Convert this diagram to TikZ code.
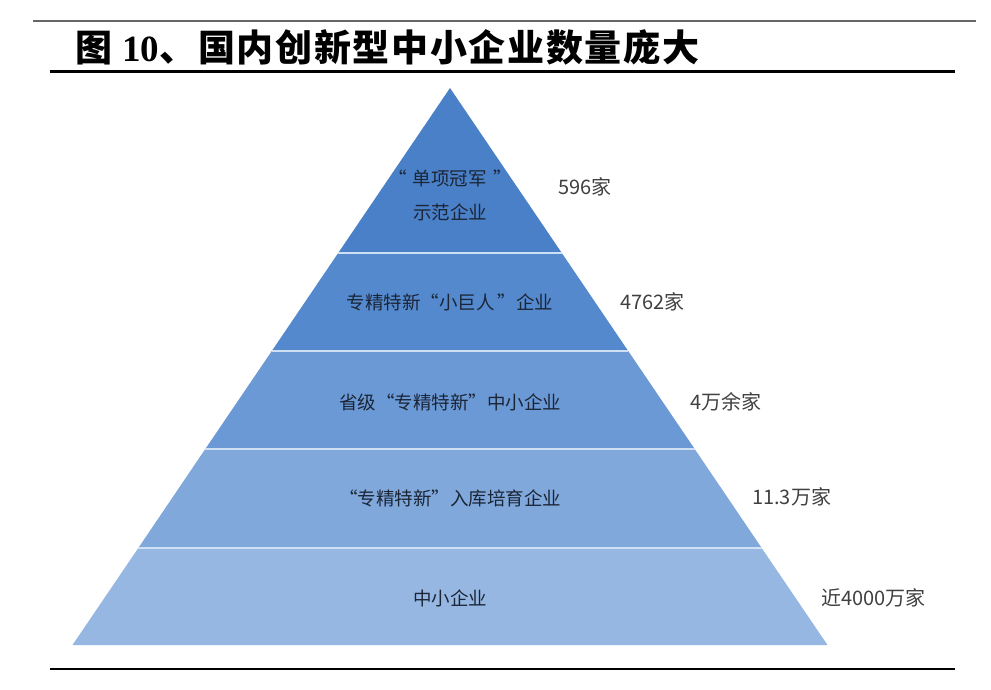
\documentclass[tikz,border=0pt]{standalone}
\usepackage{fontspec}
\setmainfont{Liberation Serif}
\newfontfamily\cjk{Noto Sans CJK SC}
\newfontfamily\cjkwide[LetterSpace=4.5]{Noto Sans CJK SC}
\definecolor{bandA}{HTML}{4A80C8}
\definecolor{bandB}{HTML}{5489CE}
\definecolor{bandC}{HTML}{6B99D5}
\definecolor{bandD}{HTML}{80A8DB}
\definecolor{bandE}{HTML}{96B7E2}
\definecolor{sepline}{HTML}{CFE0F5}
\definecolor{numgray}{HTML}{404040}
\definecolor{intext}{HTML}{1B2536}
\begin{document}
\begin{tikzpicture}[x=1pt,y=-1pt,
    lvl/.style={font=\cjk\fontsize{18.5}{34}\selectfont, text=intext, align=center, inner sep=0pt},
    cnt/.style={font=\cjk\fontsize{20}{22}\selectfont, text=numgray, anchor=west, inner sep=0pt}]
    \useasboundingbox (0,0) rectangle (991,690);
    % rules and title
    \draw[gray!80!black, line width=1.2pt] (33,21)--(976,21);
    \node[anchor=west, inner sep=0pt, font=\fontsize{37}{40}\selectfont] (title) at (75,47)
        {{\cjk\bfseries 图}\;{\bfseries 10}{\cjkwide\bfseries 、国内创新型中小企业数量庞大}};
    \draw[line width=3pt] (50,72)--(955,72);
    \draw[line width=2pt] (50,669)--(955,669);

    % pyramid bands
    \fill[bandA] (450,88)--(561.8,253)--(338.2,253)--cycle;
    \fill[bandB] (338.2,253)--(561.8,253)--(628.2,351)--(271.8,351)--cycle;
    \fill[bandC] (271.8,351)--(628.2,351)--(694.7,449)--(205.3,449)--cycle;
    \fill[bandD] (205.3,449)--(694.7,449)--(761.7,548)--(138.3,548)--cycle;
    \fill[bandE] (138.3,548)--(761.7,548)--(827.5,645)--(72.5,645)--cycle;
    \draw[sepline, line width=2.5pt] (338.2,253)--(561.8,253);
    \draw[sepline, line width=2.5pt] (271.8,351)--(628.2,351);
    \draw[sepline, line width=2.5pt] (205.3,449)--(694.7,449);
    \draw[sepline, line width=2.5pt] (138.3,548)--(761.7,548);

    % level names
    \node[lvl] (champ) at (450,195) {“\,\,单项冠军\,\,”\\示范企业};
    \node[lvl] (giant) at (450,302) {专精特新“小巨人\,”企业};
    \node[lvl] (prov) at (450,402) {省级“专精特新”中小企业};
    \node[lvl] (pool) at (450,498) {“专精特新”入库培育企业};
    \node[lvl] (sme) at (450,598) {中小企业};

    % counts
    \node[cnt] (nchamp) at (558,187) {596家};
    \node[cnt] (ngiant) at (620,302) {4762家};
    \node[cnt] (nprov) at (690,402) {4万余家};
    \node[cnt] (npool) at (752,497) {11.3万家};
    \node[cnt] (nsme) at (821,598) {近4000万家};
\end{tikzpicture}
\end{document}
